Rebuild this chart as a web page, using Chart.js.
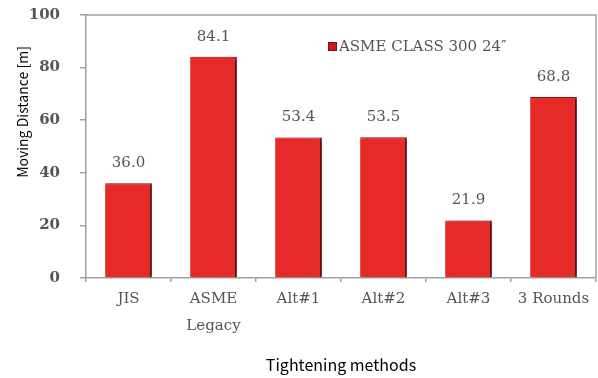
<!DOCTYPE html>
<html>
<head>
<meta charset="utf-8">
<script src="https://cdn.jsdelivr.net/npm/chart.js@4/dist/chart.umd.min.js"></script>
<style>
  html, body { margin: 0; padding: 0; background: #ffffff; }
  #chart { display: block; }
</style>
</head>
<body>
<canvas id="chart" width="598" height="378"></canvas>
<script>
// Tightening methods compared (ASME Class 300, 24")
const categories = ['JIS', ['ASME', 'Legacy'], 'Alt#1', 'Alt#2', 'Alt#3', '3 Rounds'];
const distances = [36.0, 84.1, 53.4, 53.5, 21.9, 68.8];
const seriesName = 'ASME CLASS 300 24\u2033';
const yTicks = [0, 20, 40, 60, 80, 100];

const serif = '"DejaVu Serif", "Liberation Serif", serif';
const gothic = '"Noto Sans CJK JP", "Liberation Sans", sans-serif';
const axisGray = '#a0a0a0';
const textGray = '#555555';

// Drop shadow behind the bars
const barShadow = {
  id: 'barShadow',
  beforeDatasetsDraw(chart) {
    const ctx = chart.ctx;
    ctx.save();
    ctx.shadowColor = 'rgba(0,0,0,0.5)';
    ctx.shadowBlur = 5;
    ctx.shadowOffsetX = 3;
    ctx.shadowOffsetY = 1;
  },
  afterDatasetsDraw(chart) {
    chart.ctx.restore();
  }
};

// Value labels above each bar
const valueLabels = {
  id: 'valueLabels',
  afterDatasetsDraw(chart) {
    const ctx = chart.ctx;
    const meta = chart.getDatasetMeta(0);
    ctx.save();
    ctx.font = '15px ' + serif;
    ctx.fillStyle = textGray;
    ctx.textAlign = 'center';
    ctx.textBaseline = 'middle';
    meta.data.forEach((bar, i) => {
      const v = chart.data.datasets[0].data[i];
      ctx.fillText(v.toFixed(1), bar.x, bar.y - 20);
    });
    ctx.restore();
  }
};

// Frame on the top and right of the plot, legend inside it, rotated y title
const frameAndLegend = {
  id: 'frameAndLegend',
  afterDraw(chart) {
    const ctx = chart.ctx;
    const a = chart.chartArea;
    ctx.save();
    ctx.strokeStyle = axisGray;
    ctx.lineWidth = 1.5;
    ctx.beginPath();
    ctx.moveTo(a.left, a.top);
    ctx.lineTo(a.right, a.top);
    ctx.lineTo(a.right, a.bottom);
    ctx.stroke();

    // legend
    ctx.fillStyle = '#c81e1e';
    ctx.fillRect(328, 42, 9, 9);
    ctx.strokeStyle = '#7a1010';
    ctx.lineWidth = 1;
    ctx.strokeRect(328.5, 42.5, 8, 8);
    ctx.font = '15px ' + serif;
    ctx.fillStyle = textGray;
    ctx.textAlign = 'left';
    ctx.textBaseline = 'middle';
    ctx.fillText(seriesName, 339, 47);

    // y axis title
    ctx.translate(23, 112);
    ctx.rotate(-Math.PI / 2);
    ctx.font = '14px ' + gothic;
    ctx.fillStyle = '#000000';
    ctx.textAlign = 'center';
    ctx.textBaseline = 'middle';
    ctx.fillText('Moving Distance [m]', 0, 0);
    ctx.restore();
  }
};

new Chart(document.getElementById('chart'), {
  type: 'bar',
  data: {
    labels: categories,
    datasets: [{
      label: seriesName,
      data: distances,
      backgroundColor: '#e52a27',
      borderColor: '#a81414',
      borderWidth: { left: 0, top: 1, right: 2, bottom: 0 },
      barPercentage: 0.55,
      categoryPercentage: 1.0
    }]
  },
  options: {
    responsive: false,
    animation: false,
    layout: { padding: { top: 15, right: 2, left: 0, bottom: 0 } },
    plugins: {
      legend: { display: false },
      tooltip: { enabled: false }
    },
    scales: {
      x: {
        afterFit(scale) { scale.height = 100; scale.paddingLeft = 0; scale.paddingRight = 0; },
        grid: { offset: true, drawOnChartArea: false, tickLength: 4, color: axisGray, lineWidth: 1.5 },
        border: { color: axisGray, width: 1.5 },
        ticks: {
          color: textGray,
          padding: 4,
          maxRotation: 0,
          autoSkip: false,
          font: { family: serif, size: 15, lineHeight: 1.8 }
        },
        title: {
          display: true,
          text: 'Tightening methods',
          color: '#000000',
          font: { family: gothic, size: 16 },
          padding: { top: 0, bottom: 3 }
        }
      },
      y: {
        min: 0,
        max: 100,
        afterFit(scale) { scale.width = 86; scale.paddingTop = 0; scale.paddingBottom = 0; },
        afterBuildTicks(scale) { scale.ticks = yTicks.map(v => ({ value: v })); },
        grid: { drawOnChartArea: false, tickLength: 6, color: axisGray, lineWidth: 1.5 },
        border: { color: axisGray, width: 1.5 },
        ticks: {
          color: textGray,
          padding: 20,
          font: { family: serif, size: 15, weight: 'bold' }
        }
      }
    }
  },
  plugins: [barShadow, valueLabels, frameAndLegend]
});
</script>
</body>
</html>
